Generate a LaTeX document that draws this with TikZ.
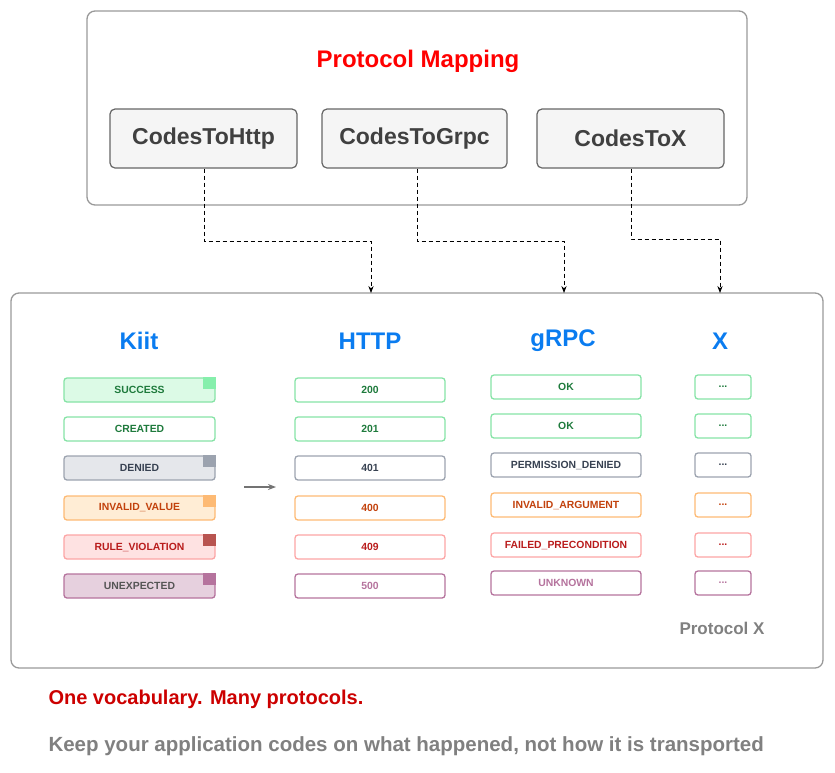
\documentclass[tikz,border=0pt]{standalone}
\usepackage{fontspec}
\setmainfont{Liberation Sans}
\usetikzlibrary{arrows.meta,calc}
\definecolor{gS}{HTML}{86E3A6}\definecolor{gF}{HTML}{DCFAE6}\definecolor{gT}{HTML}{1E7A3C}\definecolor{gC}{HTML}{86EFAC}
\definecolor{kS}{HTML}{9CA3AF}\definecolor{kF}{HTML}{E5E7EB}\definecolor{kT}{HTML}{374151}
\definecolor{oS}{HTML}{FDBA74}\definecolor{oF}{HTML}{FFEDD5}\definecolor{oT}{HTML}{C2410C}
\definecolor{rS}{HTML}{FCA5A5}\definecolor{rF}{HTML}{FEE2E2}\definecolor{rT}{HTML}{B91C1C}\definecolor{rC}{HTML}{B85450}
\definecolor{pS}{HTML}{B5739D}\definecolor{pF}{HTML}{E6D0DE}\definecolor{pT}{HTML}{555555}
\definecolor{hdr}{HTML}{0A7CF0}\definecolor{ttl}{HTML}{FF0000}\definecolor{foot}{HTML}{CC0000}
\tikzset{
 box/.style={draw=#1, line width=1.3pt, rounded corners=3pt, minimum height=24pt, inner sep=0pt, font=\bfseries\fontsize{10.4}{12}\selectfont},
 code/.style={draw=black!60, fill=black!4, line width=1.2pt, rounded corners=5pt, minimum width=187pt, minimum height=59pt, font=\bfseries\fontsize{23}{26}\selectfont, text=black!75},
 hd/.style={text=hdr, font=\bfseries\fontsize{24}{26}\selectfont},
 dconn/.style={dash pattern=on 4pt off 3pt, line width=0.8pt, -{Stealth[length=7pt]}},
 frame/.style={draw=black!40, line width=1.3pt, rounded corners=8pt}
}
\begin{document}
\begin{tikzpicture}[x=1pt,y=-1pt]
\useasboundingbox (0,0) rectangle (835,772);
\draw[frame] (87,11) rectangle (747,205);
\node[text=ttl, font=\bfseries\fontsize{24}{26}\selectfont] (title) at (418,61) {Protocol Mapping};
\node[code] (ch) at (203.5,138.5) {CodesToHttp};
\node[code, minimum width=185pt] (cg) at (414.5,138.5) {CodesToGrpc};
\node[code] (cx) at (630.5,138.5) {CodesToX};
\draw[frame] (11,293) rectangle (823,668);
\node[hd] (hk) at (139,341) {Kiit};
\node[hd] (hh) at (370,341) {HTTP};
\node[hd] (hg) at (563,341) {gRPC};
\node[hd] (hx) at (720,341) {X};
\coordinate (th) at (371,293);\coordinate (tg) at (564,293);\coordinate (tx) at (720,293);
\draw[dconn] (ch.south -| 204,0) -- (204,241) -- (371,241) -- (th);
\draw[dconn] (cg.south -| 417,0) -- (417,241) -- (564,241) -- (tg);
\draw[dconn] (cx.south -| 631,0) -- (631,239) -- (720,239) -- (tx);
% Kiit
\foreach \n/\y/\s/\f/\t/\c/\lab in {k1/390/gS/gF/gT/gC/SUCCESS,k3/468/kS/kF/kT/kS/DENIED,k4/508/oS/oF/oT/oS/INVALID\_VALUE,k5/547/rS/rF/rT/rC/RULE\_VIOLATION,k6/586/pS/pF/pT/pS/UNEXPECTED}{
 \node[box=\s, fill=\f, text=\t, minimum width=151pt] (\n) at (139.5,\y) {\lab};
 \fill[\c] ($(\n.north east)+(-13,0)$) rectangle ($(\n.north east)+(0,12)$);
}
\node[box=gS, fill=white, text=gT, minimum width=151pt] (k2) at (139.5,429) {CREATED};
% HTTP
\foreach \n/\y/\s/\t/\lab in {h1/390/gS/gT/200,h2/429/gS/gT/201,h3/468/kS/kT/401,h4/508/oS/oT/400,h5/547/rS/rT/409,h6/586/pS/pS/500}{
 \node[box=\s, text=\t, minimum width=150pt] (\n) at (370,\y) {\lab};}
% gRPC
\foreach \n/\y/\s/\t/\lab in {g1/387/gS/gT/OK,g2/426/gS/gT/OK,g3/465/kS/kT/PERMISSION\_DENIED,g4/505/oS/oT/INVALID\_ARGUMENT,g5/545/rS/rT/FAILED\_PRECONDITION,g6/583/pS/pS/UNKNOWN}{
 \node[box=\s, text=\t, minimum width=150pt] (\n) at (566,\y) {\lab};}
% X
\foreach \n/\y/\s/\t in {x1/387/gS/gT,x2/426/gS/gT,x3/465/kS/kT,x4/505/oS/oT,x5/545/rS/rT,x6/583/pS/pS}{
 \node[box=\s, text=\t, minimum width=56pt] (\n) at (723,\y) {...};}
\coordinate (a1) at (244,487);\coordinate (a2) at (276,487);
\draw[black!55, line width=1.3pt, -{Stealth[length=8pt]}] (a1) -- (a2);
\node[text=black!50, font=\bfseries\fontsize{17}{19}\selectfont] (px) at (722,628) {Protocol X};
\node[anchor=west, text=foot, font=\bfseries\fontsize{20}{22}\selectfont] (f1) at (45,699) {One vocabulary. Many protocols.};
\node[anchor=west, text=black!50, font=\bfseries\fontsize{20.5}{22}\selectfont] (f2) at (45,746) {Keep your application codes on what happened, not how it is transported};
\end{tikzpicture}
\end{document}
